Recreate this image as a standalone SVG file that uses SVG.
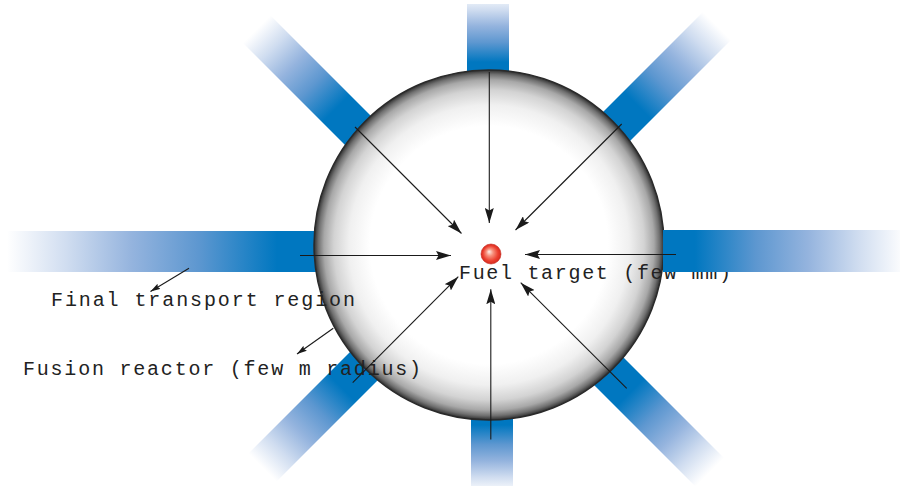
<svg xmlns="http://www.w3.org/2000/svg" width="900" height="486" viewBox="0 0 900 486">
<style>
.lbl{font-family:"Liberation Mono","Courier New",monospace;font-size:20px;fill:#222}
.arr{stroke:#1a1a1a;stroke-width:1.1;fill:none}
</style>
<defs>
<linearGradient id="gL" gradientUnits="userSpaceOnUse" x1="7" y1="0" x2="277" y2="0">
<stop offset="0" stop-color="#ffffff"/><stop offset="0.22" stop-color="#d0ddf0"/><stop offset="0.46" stop-color="#95b4de"/><stop offset="0.71" stop-color="#5d97d0"/><stop offset="1" stop-color="#0077c0"/>
</linearGradient>
<linearGradient id="gR" href="#gL" x1="905" y1="0" x2="695" y2="0"/>
<linearGradient id="gT" href="#gL" x1="0" y1="-5" x2="0" y2="62"/>
<linearGradient id="gB" href="#gL" x1="0" y1="492" x2="0" y2="425"/>
<linearGradient id="gUL" href="#gL" x1="256.75" y1="29.25" x2="336" y2="108.5"/>
<linearGradient id="gUR" href="#gL" x1="717" y1="26" x2="637.5" y2="105.5"/>
<linearGradient id="gLL" href="#gL" x1="262.5" y1="467.5" x2="342" y2="388"/>
<linearGradient id="gLR" href="#gL" x1="709.75" y1="472.25" x2="630" y2="392.5"/>
<radialGradient id="gC" cx="489" cy="245" r="175" gradientUnits="userSpaceOnUse">
<stop offset="0" stop-color="#ffffff"/><stop offset="0.68" stop-color="#ffffff"/><stop offset="0.8" stop-color="#f0f0f0"/><stop offset="0.886" stop-color="#d3d3d3"/><stop offset="0.943" stop-color="#a8a8a8"/><stop offset="0.975" stop-color="#707070"/><stop offset="1" stop-color="#2e2e2e"/>
</radialGradient>
<radialGradient id="gBall" cx="0.5" cy="0.5" r="0.5" fx="0.4" fy="0.38">
<stop offset="0" stop-color="#fff0ea"/><stop offset="0.35" stop-color="#f7907c"/><stop offset="0.75" stop-color="#ec4030"/><stop offset="1" stop-color="#d42a1e"/>
</radialGradient>
<marker id="ah" viewBox="0 0 15 9" refX="15" refY="4.5" markerWidth="15" markerHeight="9" markerUnits="userSpaceOnUse" orient="auto">
<path d="M0,0 L15,4.5 L0,9 L2.5,4.5 z" fill="#1a1a1a"/>
</marker>
<marker id="as" viewBox="0 0 10 6" refX="10" refY="3" markerWidth="10" markerHeight="6" markerUnits="userSpaceOnUse" orient="auto">
<path d="M0,0 L10,3 L0,6 L1.5,3 z" fill="#1a1a1a"/>
</marker>
</defs>
<g id="beams">
<g id="beam-left"><rect x="7" y="231" width="333" height="41" fill="url(#gL)"/></g>
<g id="beam-top"><rect x="467" y="4" width="42" height="96" fill="url(#gT)"/></g>
<g id="beam-bottom"><rect x="471" y="390" width="42" height="96" fill="url(#gB)"/></g>
<g id="beam-upper-left"><polygon points="243,43 270.5,15.5 407.5,152.5 380,180" fill="url(#gUL)"/></g>
<g id="beam-upper-right"><polygon points="703,12 731,40 595.5,175.5 567.5,147.5" fill="url(#gUR)"/></g>
<g id="beam-lower-left"><polygon points="248.5,453.5 276.5,481.5 389,369 361,341" fill="url(#gLL)"/></g>
<g id="beam-lower-right"><polygon points="695.5,486.5 724,458 583,317 554.5,345.5" fill="url(#gLR)"/></g>
</g>
<g id="reactor"><circle cx="489" cy="245" r="175" fill="url(#gC)" stroke="#2a2a2a" stroke-width="1.5"/></g>
<g id="target"><circle cx="491" cy="254" r="10" fill="url(#gBall)" stroke="#c8281e" stroke-width="0.6"/></g>
<g id="labels">
<text class="lbl" x="459" y="279" textLength="272" lengthAdjust="spacing">Fuel target (few mm)</text>
<text class="lbl" x="51" y="306" textLength="304" lengthAdjust="spacing">Final transport region</text>
<text class="lbl" x="23" y="375" textLength="398" lengthAdjust="spacing">Fusion reactor (few m radius)</text>
</g>
<g id="beam-right"><rect x="663" y="230" width="237" height="42" fill="url(#gR)"/></g>
<g id="connectors">
<line class="arr" x1="489.3" y1="72" x2="489.3" y2="223" marker-end="url(#ah)"/>
<line class="arr" x1="355" y1="127" x2="461.5" y2="233.5" marker-end="url(#ah)"/>
<line class="arr" x1="621.7" y1="124" x2="515.5" y2="230" marker-end="url(#ah)"/>
<line class="arr" x1="300" y1="255.5" x2="451" y2="255.5" marker-end="url(#ah)"/>
<line class="arr" x1="676" y1="254.5" x2="525" y2="254.5" marker-end="url(#ah)"/>
<line class="arr" x1="352.7" y1="382.7" x2="458.3" y2="276.7" marker-end="url(#ah)"/>
<line class="arr" x1="490.8" y1="439.5" x2="490.8" y2="289.3" marker-end="url(#ah)"/>
<line class="arr" x1="626.7" y1="388.3" x2="520.7" y2="282.7" marker-end="url(#ah)"/>
<line class="arr" x1="189" y1="268.3" x2="150.5" y2="291.5" marker-end="url(#as)"/>
<line class="arr" x1="333.3" y1="328.3" x2="297" y2="354" marker-end="url(#as)"/>
</g>
</svg>
